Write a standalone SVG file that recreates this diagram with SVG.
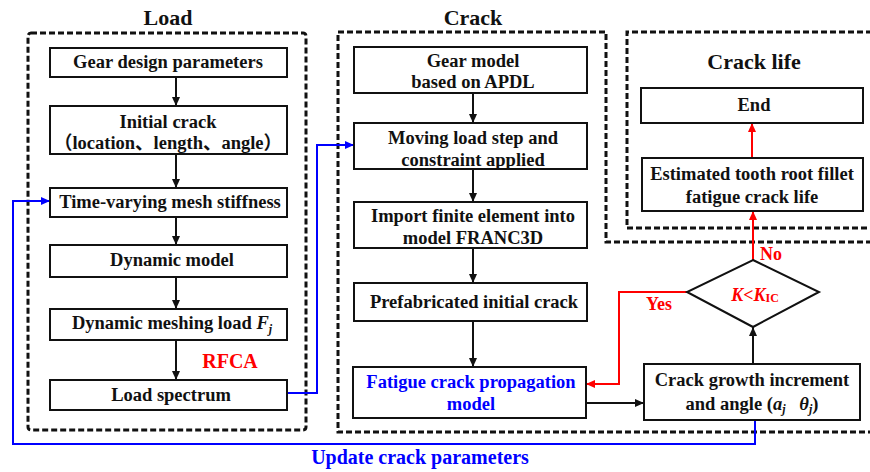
<svg xmlns="http://www.w3.org/2000/svg" width="870" height="472" viewBox="0 0 870 472">
<style>
text{font-family:"Liberation Serif","Noto Sans CJK SC",serif;font-weight:bold;text-anchor:middle}
.t{font-size:18.5px;fill:#111}
.title{font-size:22px;fill:#111}
.box{fill:#fff;stroke:#111;stroke-width:2}
.dash{fill:none;stroke:#111;stroke-width:3;stroke-dasharray:6 3}
.k{fill:none;stroke:#111;stroke-width:2}
.r{fill:none;stroke:#f00;stroke-width:2}
.b{fill:none;stroke:#0000ff;stroke-width:2}
</style>
<defs>
<marker id="ak" markerUnits="userSpaceOnUse" markerWidth="10" markerHeight="10" refX="9" refY="5" orient="auto"><path d="M0,1 L9,5 L0,9 Z" fill="#111"/></marker>
<marker id="ar" markerUnits="userSpaceOnUse" markerWidth="10" markerHeight="10" refX="9" refY="5" orient="auto"><path d="M0,1 L9,5 L0,9 Z" fill="#f00"/></marker>
<marker id="ab" markerUnits="userSpaceOnUse" markerWidth="10" markerHeight="10" refX="9" refY="5" orient="auto"><path d="M0,1 L9,5 L0,9 Z" fill="#0000ff"/></marker>
</defs>
<rect width="870" height="472" fill="#fff"/>

<g id="regions">
<rect class="dash" x="28" y="33" width="278" height="397" rx="3"/>
<path class="dash" d="M872,242 H606 V32 H338 V432 H872"/>
<path class="dash" d="M872,32 H627 V228 H872"/>
<text class="title" x="168" y="25">Load</text>
<text class="title" x="473" y="25">Crack</text>
<text class="title" x="754" y="69">Crack life</text>
</g>

<g id="connectors">
<path class="k" d="M176,77 V106" marker-end="url(#ak)"/>
<path class="k" d="M176,154 V188" marker-end="url(#ak)"/>
<path class="k" d="M176,217 V245" marker-end="url(#ak)"/>
<path class="k" d="M176,277 V309" marker-end="url(#ak)"/>
<path class="k" d="M176,340 V380" marker-end="url(#ak)"/>
<path class="k" d="M473,93 V123" marker-end="url(#ak)"/>
<path class="k" d="M473,169 V202" marker-end="url(#ak)"/>
<path class="k" d="M473,248 V283" marker-end="url(#ak)"/>
<path class="k" d="M473,321 V367" marker-end="url(#ak)"/>
<path class="k" d="M586,403 H644" marker-end="url(#ak)"/>
<path class="k" d="M753,364 V327" marker-end="url(#ak)"/>
<path class="r" d="M753,260 V211" marker-end="url(#ar)"/>
<path class="r" d="M752,158 V123" marker-end="url(#ar)"/>
<path class="r" d="M687,292 H619 V384 H586" marker-end="url(#ar)"/>
<path class="b" d="M287,393 H317 V145 H354" marker-end="url(#ab)"/>
<path class="b" d="M755,420 V444 H13 V201 H50" marker-end="url(#ab)"/>
<text x="230" y="368" style="font-size:20px;fill:#f00">RFCA</text>
<text x="659" y="310" style="font-size:18px;fill:#f00">Yes</text>
<text x="771" y="260" style="font-size:18px;fill:#f00">No</text>
<text x="420" y="464" style="font-size:20px;fill:#0000ff">Update crack parameters</text>
</g>

<g id="n1"><rect class="box" x="50" y="48" width="237" height="29"/><text class="t" x="168" y="68">Gear design parameters</text></g>
<g id="n2"><rect class="box" x="50" y="106" width="237" height="48"/><text class="t" x="168" y="128">Initial crack</text><text class="t" x="168" y="149">（location、length、angle）</text></g>
<g id="n3"><rect class="box" x="50" y="188" width="237" height="29"/><text class="t" x="170" y="208">Time-varying mesh stiffness</text></g>
<g id="n4"><rect class="box" x="50" y="245" width="237" height="32"/><text class="t" x="172" y="266">Dynamic model</text></g>
<g id="n5"><rect class="box" x="50" y="309" width="237" height="31"/><text class="t" x="172" y="329">Dynamic meshing load <tspan font-style="italic">F</tspan><tspan font-style="italic" font-size="12" dy="4">j</tspan></text></g>
<g id="n6"><rect class="box" x="50" y="380" width="237" height="30"/><text class="t" x="171" y="401">Load spectrum</text></g>

<g id="c1"><rect class="box" x="354" y="47" width="233" height="46"/><text class="t" x="473" y="67">Gear model</text><text class="t" x="473" y="88">based on APDL</text></g>
<g id="c2"><rect class="box" x="354" y="123" width="233" height="46"/><text class="t" x="473" y="144">Moving load step and</text><text class="t" x="473" y="166">constraint applied</text></g>
<g id="c3"><rect class="box" x="354" y="202" width="233" height="46"/><text class="t" x="473" y="222">Import finite element into</text><text class="t" x="473" y="244">model FRANC3D</text></g>
<g id="c4"><rect class="box" x="354" y="283" width="233" height="38"/><text class="t" x="474" y="308">Prefabricated initial crack</text></g>
<g id="c5"><rect class="box" x="353" y="367" width="233" height="51"/><text class="t" x="471" y="388" style="fill:#0000ff">Fatigue crack propagation</text><text class="t" x="471" y="410" style="fill:#0000ff">model</text></g>

<g id="l1"><rect class="box" x="641" y="88" width="222" height="35"/><text class="t" x="754" y="111">End</text></g>
<g id="l2"><rect class="box" x="642" y="158" width="221" height="53"/><text class="t" x="752" y="180">Estimated tooth root fillet</text><text class="t" x="752" y="203">fatigue crack life</text></g>

<g id="d1"><polygon class="box" points="753,260 819,292 753,327 687,292"/><text x="755" y="301" style="font-size:18px;fill:#f00"><tspan font-style="italic">K</tspan>&lt;<tspan font-style="italic">K</tspan><tspan font-size="12" dy="1">IC</tspan></text></g>
<g id="g1"><rect class="box" x="644" y="364" width="216" height="56"/><text class="t" x="752" y="386">Crack growth increment</text><text class="t" x="752" y="410">and angle (<tspan font-style="italic">a</tspan><tspan font-style="italic" font-size="12" dy="3">j</tspan><tspan dy="-3" xml:space="preserve">   </tspan><tspan font-style="italic">θ</tspan><tspan font-style="italic" font-size="12" dy="3">j</tspan><tspan dy="-3">)</tspan></text></g>
</svg>
